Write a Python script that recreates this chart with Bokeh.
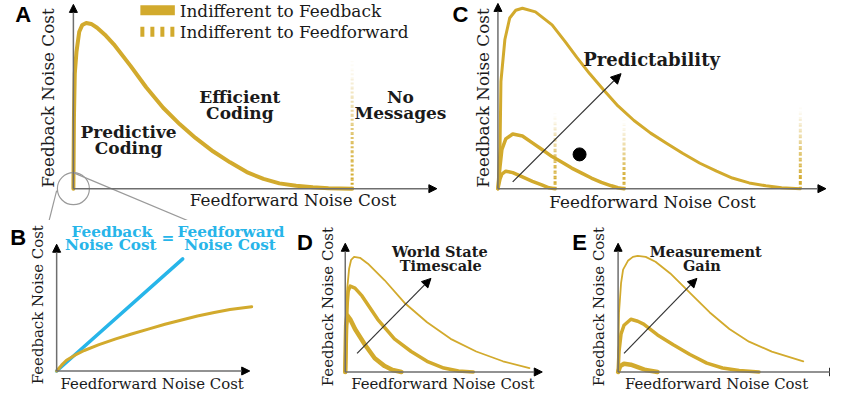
import numpy as np
from bokeh.plotting import figure
from bokeh.models import Range1d, Label, Arrow, NormalHead
from bokeh.layouts import row, column
from bokeh.embed import file_html
from bokeh.resources import INLINE

GOLD = "#D2AA2D"
BLUE = "#27B5E9"
AXIS = "#6E6E6E"
INK = "#1A1A1A"
SERIF = "DejaVu Serif"
SANS = "Liberation Sans"

# ---------------- data (normalised units) ----------------
# Panel A : boundary curve (indifferent to feedback), dotted boundary at x=1
A_x = [0, 0.002, 0.005, 0.011, 0.021, 0.032, 0.046, 0.064, 0.085, 0.113, 0.145, 0.205, 0.261,
       0.322, 0.382, 0.438, 0.502, 0.562, 0.622, 0.682, 0.739, 0.799, 0.859, 0.915, 1.0]
A_y = [0, 0.429, 0.694, 0.824, 0.947, 0.988, 1.0, 0.994, 0.971, 0.929, 0.871, 0.741, 0.612,
       0.488, 0.388, 0.306, 0.224, 0.159, 0.100, 0.059, 0.032, 0.018, 0.009, 0.003, 0.0]
A_dotted_x = [1.0]
A_dotted_h = [0.77]

# Panel C : three predictability levels
C_big_x = [0, 0.007, 0.010, 0.023, 0.039, 0.059, 0.081, 0.124, 0.179, 0.221, 0.261, 0.303, 0.349,
           0.397, 0.450, 0.505, 0.560, 0.612, 0.668, 0.723, 0.775, 0.831, 0.886, 0.938, 1.0]
C_big_y = [0, 0.232, 0.595, 0.827, 0.946, 0.989, 1.0, 0.980, 0.908, 0.818, 0.728, 0.638, 0.548,
           0.459, 0.378, 0.308, 0.249, 0.195, 0.141, 0.097, 0.059, 0.032, 0.016, 0.005, 0.0]
C_mid_x = [0, 0.007, 0.013, 0.026, 0.049, 0.081, 0.114, 0.147, 0.179, 0.212, 0.244, 0.277, 0.309,
           0.342, 0.375, 0.397, 0.417]
C_mid_y = [0, 0.124, 0.216, 0.276, 0.303, 0.292, 0.254, 0.216, 0.178, 0.146, 0.114, 0.086, 0.059,
           0.035, 0.016, 0.005, 0.0]
C_small_x = [0, 0.007, 0.013, 0.026, 0.049, 0.081, 0.114, 0.147, 0.169, 0.189]
C_small_y = [0, 0.054, 0.081, 0.097, 0.089, 0.065, 0.041, 0.019, 0.005, 0.0]
C_dotted_x = [0.189, 0.417, 1.0]
C_dotted_h = [0.42, 0.38, 0.45]
C_point_x = [0.27]
C_point_y = [0.19]

# Panel B : zoom near the origin
B_equal_x = [0, 1.0]
B_equal_y = [0, 1.0]
B_curve_x = [0, 0.039, 0.078, 0.141, 0.219, 0.336, 0.469, 0.594, 0.727, 0.859, 0.984, 1.117,
             1.25, 1.375, 1.547]
B_curve_y = [0, 0.052, 0.096, 0.139, 0.183, 0.235, 0.287, 0.330, 0.374, 0.417, 0.452, 0.491,
             0.522, 0.548, 0.574]

# Panel D : world state timescale
D_long_x = [0, 0.005, 0.011, 0.021, 0.032, 0.048, 0.080, 0.123, 0.214, 0.321, 0.444, 0.572,
            0.711, 0.856, 1.0]
D_long_y = [0, 0.432, 0.729, 0.898, 0.975, 1.0, 0.992, 0.941, 0.797, 0.602, 0.432, 0.288,
            0.178, 0.093, 0.034]
D_mid_x = [0, 0.005, 0.011, 0.016, 0.027, 0.053, 0.091, 0.176, 0.267, 0.358, 0.444, 0.535,
           0.615, 0.695]
D_mid_y = [0, 0.347, 0.602, 0.703, 0.746, 0.729, 0.661, 0.458, 0.288, 0.178, 0.093, 0.034,
           0.008, 0.0]
D_short_x = [0, 0.003, 0.005, 0.011, 0.027, 0.053, 0.107, 0.160, 0.214, 0.257, 0.305]
D_short_y = [0, 0.263, 0.407, 0.492, 0.458, 0.373, 0.237, 0.119, 0.051, 0.017, 0.0]

# Panel E : measurement gain
E_high_x = [0, 0.005, 0.016, 0.027, 0.053, 0.080, 0.106, 0.149, 0.202, 0.282, 0.388, 0.495,
            0.601, 0.707, 0.830, 1.0]
E_high_y = [0, 0.513, 0.765, 0.882, 0.958, 0.992, 1.0, 0.992, 0.950, 0.849, 0.681, 0.513,
            0.370, 0.261, 0.176, 0.092]
E_mid_x = [0, 0.005, 0.016, 0.032, 0.069, 0.106, 0.138, 0.213, 0.298, 0.388, 0.479, 0.564,
           0.654, 0.761]
E_mid_y = [0, 0.176, 0.328, 0.403, 0.454, 0.437, 0.412, 0.319, 0.235, 0.151, 0.076, 0.034,
           0.013, 0.0]
E_low_x = [0, 0.011, 0.032, 0.069, 0.106, 0.149, 0.213]
E_low_y = [0, 0.050, 0.071, 0.063, 0.042, 0.017, 0.0]

X_LABEL = "Feedforward Noise Cost"
Y_LABEL = "Feedback Noise Cost"

# ---------------- layout helpers ----------------
KX = 0.985   # horizontal fit of the design into the page
KY = 0.975   # vertical fit of the design into the page


def make_panel(L, T, W, H, ox, oy, sx, sy):
    """L,T,W,H: figure box in page px; ox,oy: origin in design px; sx,sy: design px per unit."""
    x0 = (L / KX - ox) / sx
    x1 = ((L + W) / KX - ox) / sx
    y1 = (oy - T / KY) / sy
    y0 = (oy - (T + H) / KY) / sy
    p = figure(width=W, height=H, x_range=Range1d(x0, x1), y_range=Range1d(y0, y1),
               output_backend="svg", toolbar_location=None, x_axis_type=None,
               y_axis_type=None, min_border=0, outline_line_color=None,
               background_fill_color="white", border_fill_color="white")

    def R(x, y):
        return (x - ox) / sx, (oy - y) / sy
    return p, R


def label(p, R, x, y, text, size, font=SERIF, bold=False, color=INK, angle=0.0, align="center"):
    dx, dy = R(x, y)
    p.add_layout(Label(x=dx, y=dy, text=text, text_font=font, text_font_size=f"{size}px",
                       text_font_style="bold" if bold else "normal", text_color=color,
                       text_align=align, text_baseline="middle", angle=angle))


def arrow(p, R, xs, ys, xe, ye, color, width, head):
    a, b = R(xs, ys)
    c, d = R(xe, ye)
    p.add_layout(Arrow(end=NormalHead(size=head, fill_color="black", line_color="black"),
                       x_start=a, y_start=b, x_end=c, y_end=d,
                       line_color=color, line_width=width))


def axes(p, R, ox, oy, xt, yt):
    arrow(p, R, ox, oy, xt, oy, AXIS, 1.5, 8)
    arrow(p, R, ox, oy, ox, yt, AXIS, 1.5, 8)


def fade_line(p, xs, hs, width=3, n=14):
    for x, h in zip(xs, hs):
        ys = np.linspace(0, h, n + 1)
        t = np.linspace(0, 1, n)
        alphas = np.clip(1.0 - t ** 1.3, 0.04, 1.0)
        p.segment(x0=[x] * n, y0=ys[:-1], x1=[x] * n, y1=ys[1:], line_color=GOLD,
                  line_alpha=alphas, line_width=width, line_dash="2 2")


def curve(p, xs, ys, width, color=GOLD):
    p.line(xs, ys, line_color=color, line_width=width, line_join="round", line_cap="round")


TOP_H = 220
BOT_H = 394 - TOP_H
A_W = 450
B_W = 292
D_W = 265
AX_TOP = 16.8
AX_BOT = 14.9
LETTER = 22
LEG = 16.9
BOLD_A = 17

# ---------------- Panel A ----------------
pA, RA = make_panel(0, 0, A_W, TOP_H, 74, 193, 283, 170)
axes(pA, RA, 74, 193, 443, 4)
fade_line(pA, A_dotted_x, A_dotted_h, width=3)
curve(pA, A_x, A_y, 4)
pA.scatter([0], [0], size=32, fill_color=None, line_color="#9A9A9A", line_width=1.2)
for (xa, ya, xb, yb) in [(75, 177, 193, 227), (57, 195, 48, 231)]:
    a, b = RA(xa, ya)
    c, d = RA(xb, yb)
    pA.segment([a], [b], [c], [d], line_color="#9A9A9A", line_width=1.2)
# legend
sa, sb = RA(142, 10)
se, _ = RA(177, 10)
pA.segment([sa], [sb], [se], [sb], line_color=GOLD, line_width=10, line_cap="butt")
sa2, sb2 = RA(142, 32)
pA.segment([sa2], [sb2], [se], [sb2], line_color=GOLD, line_width=10, line_cap="butt",
           line_dash="4 6")
label(pA, RA, 182, 11, "Indifferent to Feedback", LEG, align="left")
label(pA, RA, 182, 32, "Indifferent to Feedforward", LEG, align="left")
label(pA, RA, 23, 14, "A", LETTER, font=SANS, bold=True, color="black")
label(pA, RA, 297, 205, X_LABEL, AX_TOP)
label(pA, RA, 48, 100, Y_LABEL, AX_TOP, angle=np.pi / 2)
label(pA, RA, 130, 135, "Predictive", BOLD_A, bold=True)
label(pA, RA, 130, 151, "Coding", BOLD_A, bold=True)
label(pA, RA, 243, 99, "Efficient", BOLD_A, bold=True)
label(pA, RA, 243, 115, "Coding", BOLD_A, bold=True)
label(pA, RA, 406, 99, "No", BOLD_A, bold=True)
label(pA, RA, 406, 115, "Messages", BOLD_A, bold=True)

# ---------------- Panel C ----------------
pC, RC = make_panel(A_W, 0, 830 - A_W, TOP_H, 505, 193, 307, 185)
axes(pC, RC, 505, 193, 838, 3)
fade_line(pC, C_dotted_x, C_dotted_h, width=3)
curve(pC, C_big_x, C_big_y, 3)
curve(pC, C_mid_x, C_mid_y, 3.5)
curve(pC, C_small_x, C_small_y, 3.5)
pC.scatter(C_point_x, C_point_y, size=13, color="black")
arrow(pC, RC, 520, 186, 630, 75, "#333333", 1.3, 10)
label(pC, RC, 661, 61, "Predictability", 18, bold=True)
label(pC, RC, 467, 14, "C", LETTER, font=SANS, bold=True, color="black")
label(pC, RC, 662, 207, X_LABEL, AX_TOP)
label(pC, RC, 490, 100, Y_LABEL, AX_TOP, angle=np.pi / 2)

# ---------------- Panel B ----------------
pB, RB = make_panel(0, TOP_H, B_W, BOT_H, 57, 380, 128, 115)
axes(pB, RB, 57, 380, 253, 250)
curve(pB, B_equal_x, B_equal_y, 3.5, color=BLUE)
curve(pB, B_curve_x, B_curve_y, 3)
label(pB, RB, 18, 243, "B", LETTER, font=SANS, bold=True, color="black")
label(pB, RB, 154, 393, X_LABEL, AX_BOT)
label(pB, RB, 38, 312, Y_LABEL, AX_BOT, angle=np.pi / 2)
label(pB, RB, 113, 237, "Feedback", 15.3, bold=True, color=BLUE)
label(pB, RB, 112, 251, "Noise Cost", 15.3, bold=True, color=BLUE)
label(pB, RB, 170, 244, "=", 15.3, bold=True, color=BLUE)
label(pB, RB, 234, 237, "Feedforward", 15.3, bold=True, color=BLUE)
label(pB, RB, 233, 251, "Noise Cost", 15.3, bold=True, color=BLUE)

# ---------------- Panel D ----------------
pD, RD = make_panel(B_W, TOP_H, D_W, BOT_H, 350, 381, 187, 118)
axes(pD, RD, 350, 381, 550, 249)
curve(pD, D_long_x, D_long_y, 1.8)
curve(pD, D_mid_x, D_mid_y, 3.5)
curve(pD, D_short_x, D_short_y, 4.5)
arrow(pD, RD, 362, 362, 437, 285, "#333333", 1.2, 9)
label(pD, RD, 446, 257, "World State", 14.5, bold=True)
label(pD, RD, 447, 272, "Timescale", 14.5, bold=True)
label(pD, RD, 309, 248, "D", LETTER, font=SANS, bold=True, color="black")
label(pD, RD, 449, 393, X_LABEL, AX_BOT)
label(pD, RD, 332, 314, Y_LABEL, AX_BOT, angle=np.pi / 2)

# ---------------- Panel E ----------------
pE, RE = make_panel(B_W + D_W, TOP_H, 830 - B_W - D_W, BOT_H, 627, 381, 188, 119)
axes(pE, RE, 627, 381, 850, 249)
curve(pE, E_high_x, E_high_y, 1.8)
curve(pE, E_mid_x, E_mid_y, 3.5)
curve(pE, E_low_x, E_low_y, 4.5)
arrow(pE, RE, 633, 362, 707, 285, "#333333", 1.2, 9)
label(pE, RE, 716, 257, "Measurement", 14.5, bold=True)
label(pE, RE, 712, 272, "Gain", 14.5, bold=True)
label(pE, RE, 588, 248, "E", LETTER, font=SANS, bold=True, color="black")
label(pE, RE, 727, 393, X_LABEL, AX_BOT)
label(pE, RE, 608, 314, Y_LABEL, AX_BOT, angle=np.pi / 2)

layout = column(row(pA, pC, spacing=0), row(pB, pD, pE, spacing=0), spacing=0)
open("out.html", "w").write(file_html(layout, INLINE))
